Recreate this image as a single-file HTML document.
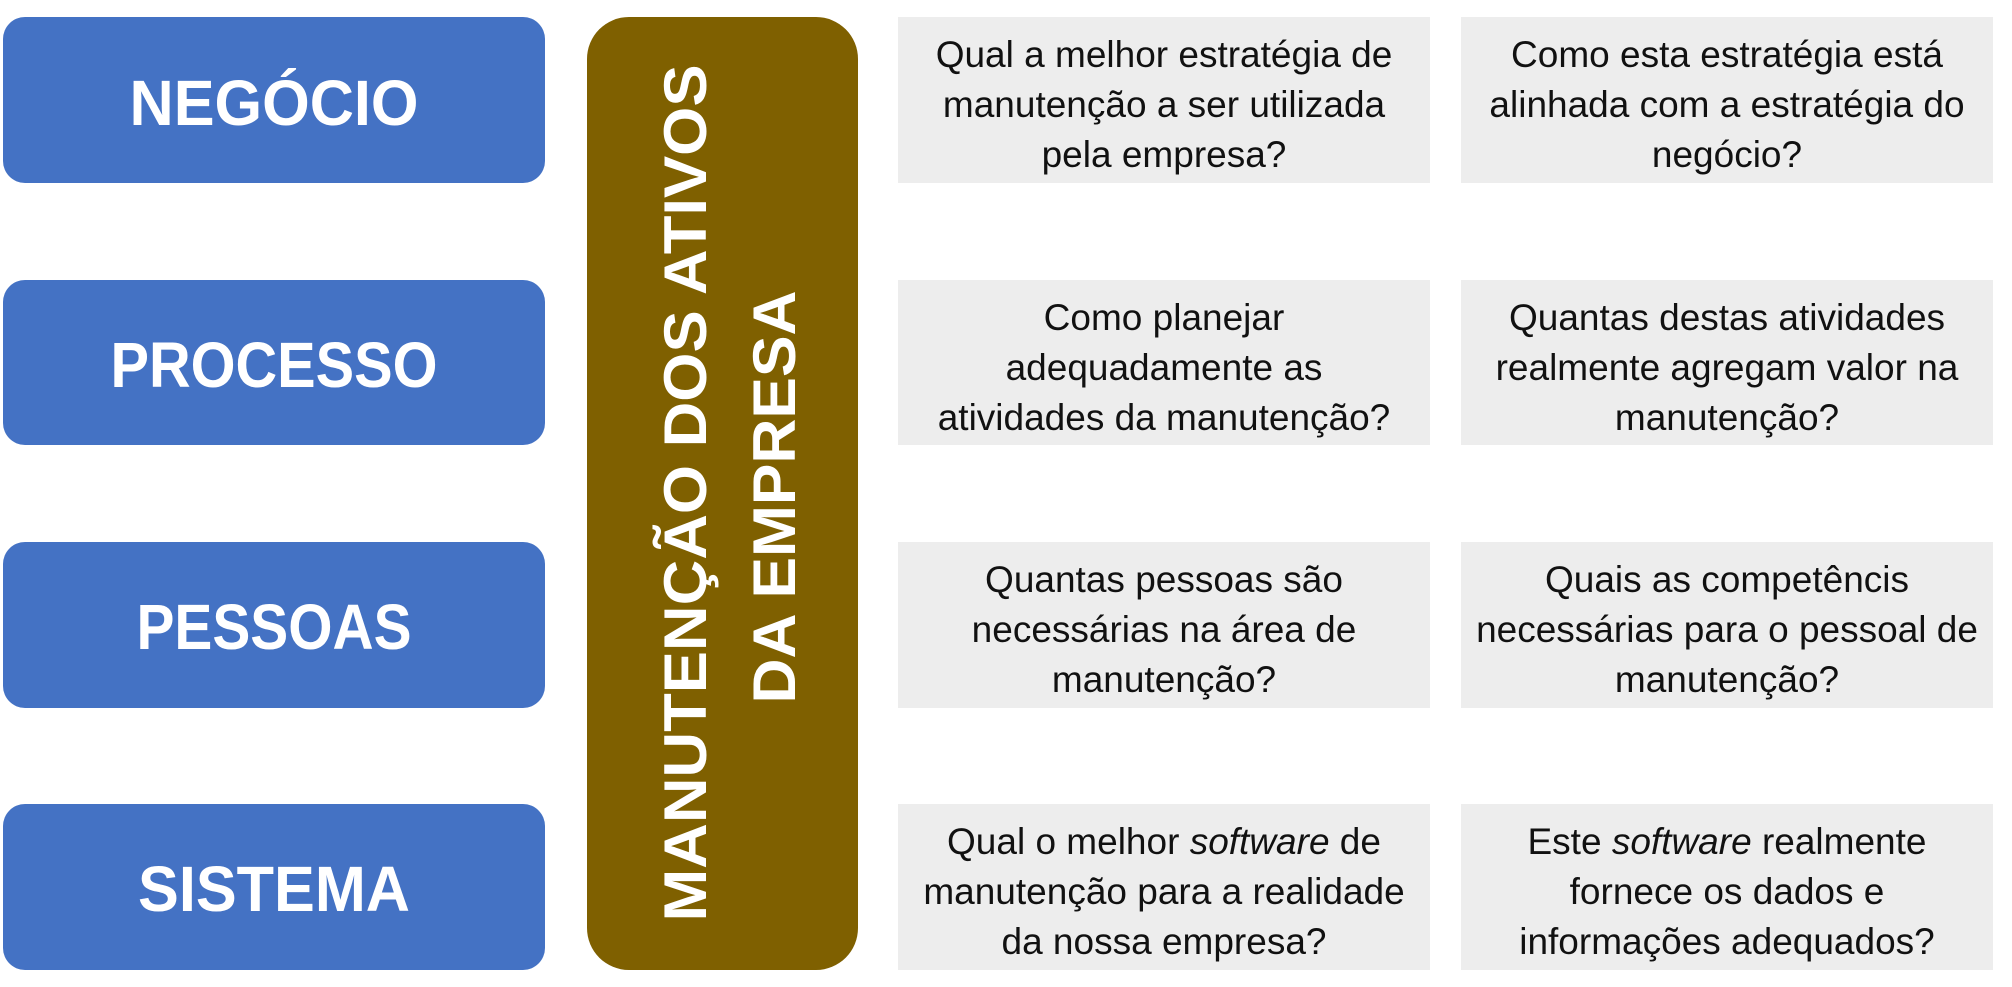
<!DOCTYPE html>
<html><head><meta charset="utf-8"><style>
html,body{margin:0;padding:0;background:#fff;}
svg{display:block;}
.q{font-family:"Liberation Sans",sans-serif;font-size:37px;fill:#111;text-anchor:middle;}
.b{font-family:"Liberation Sans",sans-serif;font-weight:bold;font-size:64px;fill:#fff;text-anchor:middle;}
.v{font-family:"Liberation Sans",sans-serif;font-weight:bold;font-size:60px;fill:#fff;text-anchor:middle;}
</style></head><body>
<svg width="2012" height="987" viewBox="0 0 2012 987" xmlns="http://www.w3.org/2000/svg">
<rect x="0" y="0" width="2012" height="987" fill="#fff"/>
<rect x="3" y="17" width="542" height="166" rx="22" fill="#4472c4"/>
<rect x="3" y="280" width="542" height="165" rx="22" fill="#4472c4"/>
<rect x="3" y="542" width="542" height="166" rx="22" fill="#4472c4"/>
<rect x="3" y="804" width="542" height="166" rx="22" fill="#4472c4"/>
<text class="b" x="274" y="125" textLength="289" lengthAdjust="spacingAndGlyphs">NEGÓCIO</text>
<text class="b" x="274" y="387" textLength="327" lengthAdjust="spacingAndGlyphs">PROCESSO</text>
<text class="b" x="274" y="649" textLength="275" lengthAdjust="spacingAndGlyphs">PESSOAS</text>
<text class="b" x="274" y="911" textLength="272" lengthAdjust="spacingAndGlyphs">SISTEMA</text>
<rect x="587" y="17" width="271" height="953" rx="42" fill="#7f6000"/>
<text class="v" transform="translate(706,493) rotate(-90)" textLength="857" lengthAdjust="spacingAndGlyphs">MANUTENÇÃO DOS ATIVOS</text>
<text class="v" transform="translate(795,497) rotate(-90)" textLength="413" lengthAdjust="spacingAndGlyphs">DA EMPRESA</text>
<g fill="#ededed">
<rect x="898" y="17" width="532" height="166"/><rect x="1461" y="17" width="532" height="166"/>
<rect x="898" y="280" width="532" height="165"/><rect x="1461" y="280" width="532" height="165"/>
<rect x="898" y="542" width="532" height="166"/><rect x="1461" y="542" width="532" height="166"/>
<rect x="898" y="804" width="532" height="166"/><rect x="1461" y="804" width="532" height="166"/>
</g>
<g class="q">
<text x="1164" y="67">Qual a melhor estratégia de</text>
<text x="1164" y="117">manutenção a ser utilizada</text>
<text x="1164" y="167">pela empresa?</text>
<text x="1727" y="67">Como esta estratégia está</text>
<text x="1727" y="117">alinhada com a estratégia do</text>
<text x="1727" y="167">negócio?</text>

<text x="1164" y="330">Como planejar</text>
<text x="1164" y="380">adequadamente as</text>
<text x="1164" y="430">atividades da manutenção?</text>
<text x="1727" y="330">Quantas destas atividades</text>
<text x="1727" y="380">realmente agregam valor na</text>
<text x="1727" y="430">manutenção?</text>

<text x="1164" y="592">Quantas pessoas são</text>
<text x="1164" y="642">necessárias na área de</text>
<text x="1164" y="692">manutenção?</text>
<text x="1727" y="592">Quais as competêncis</text>
<text x="1727" y="642">necessárias para o pessoal de</text>
<text x="1727" y="692">manutenção?</text>

<text x="1164" y="854">Qual o melhor <tspan font-style="italic">software</tspan> de</text>
<text x="1164" y="904">manutenção para a realidade</text>
<text x="1164" y="954">da nossa empresa?</text>
<text x="1727" y="854">Este <tspan font-style="italic">software</tspan> realmente</text>
<text x="1727" y="904">fornece os dados e</text>
<text x="1727" y="954">informações adequados?</text>
</g>
</svg>
</body></html>
